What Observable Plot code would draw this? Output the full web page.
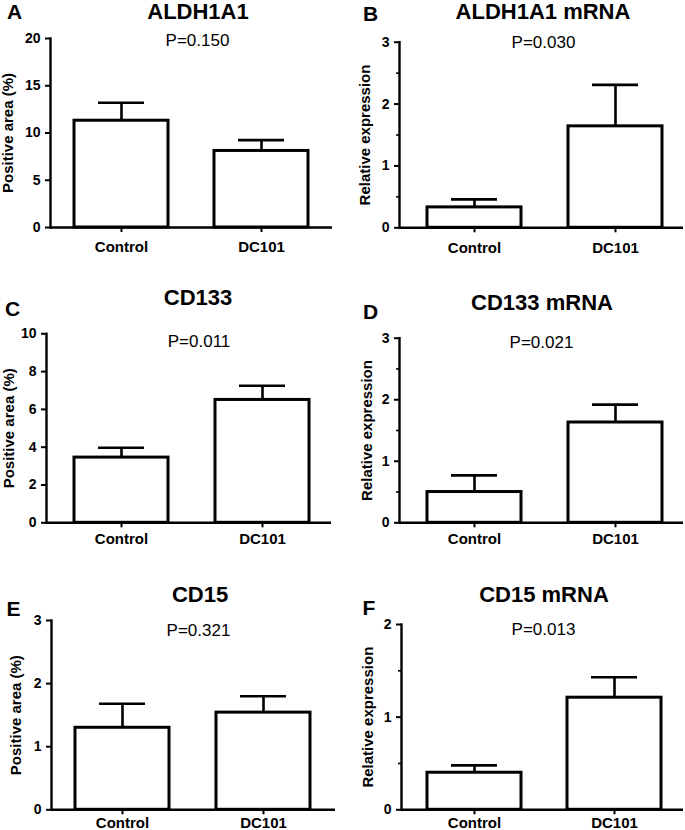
<!DOCTYPE html>
<html><head><meta charset="utf-8">
<script src="https://cdn.jsdelivr.net/npm/d3@7"></script>
<script src="https://cdn.jsdelivr.net/npm/@observablehq/plot@0.6"></script>
<style>
html,body{margin:0;padding:0;background:#fff;}
#root{position:relative;width:685px;height:830px;overflow:hidden;background:#fff;font-family:"Liberation Sans",Arial,sans-serif;color:#000}
.panel{position:absolute}
.title,.letter{position:absolute;font-weight:bold;font-size:22px;transform:translate(-50%,-50%);white-space:nowrap;line-height:1}
.letter{font-size:21px}
</style></head>
<body><div id="root"></div>
<script>
// ---- data ----
const categories = ["Control", "DC101"];
const panelLetters = ["A", "B", "C", "D", "E", "F"];
const panelTitles = ["ALDH1A1", "ALDH1A1 mRNA", "CD133", "CD133 mRNA", "CD15", "CD15 mRNA"];
const pValues = ["P=0.150", "P=0.030", "P=0.011", "P=0.021", "P=0.321", "P=0.013"];
const yLabels = ["Positive area (%)", "Relative expression", "Positive area (%)", "Relative expression", "Positive area (%)", "Relative expression"];

const aldh1a1Mean = [11.3, 8.1];      const aldh1a1Sem = [1.9, 1.15];
const aldh1a1mRNAMean = [0.33, 1.64]; const aldh1a1mRNASem = [0.13, 0.67];
const cd133Mean = [3.45, 6.5];        const cd133Sem = [0.52, 0.75];
const cd133mRNAMean = [0.50, 1.63];   const cd133mRNASem = [0.27, 0.29];
const cd15Mean = [1.30, 1.54];        const cd15Sem = [0.38, 0.26];
const cd15mRNAMean = [0.40, 1.21];    const cd15mRNASem = [0.08, 0.22];

const yDomains = [[0, 20], [0, 3], [0, 10], [0, 3], [0, 3], [0, 2]];
const yTicks = [[0, 5, 10, 15, 20], [0, 1, 2, 3], [0, 2, 4, 6, 8, 10], [0, 1, 2, 3], [0, 1, 2, 3], [0, 1, 2]];
const yMinorTicks = [[], [0.5, 1.5, 2.5], [], [0.5, 1.5, 2.5], [], [0.5, 1.5]];

const means = [aldh1a1Mean, aldh1a1mRNAMean, cd133Mean, cd133mRNAMean, cd15Mean, cd15mRNAMean];
const sems = [aldh1a1Sem, aldh1a1mRNASem, cd133Sem, cd133mRNASem, cd15Sem, cd15mRNASem];

// ---- layout (page pixels) ----
const geom = [
  {left: 0,   top: 0,   w: 342, x0: 50,  x1: 332, y0: 227,   y1: 38,    align: 0.5,  pDx: 6,  pDy: 2.5, labelX: 7.5,   catPad: 8.5, tx: 198, ty: 12,  lx: 14.5,  ly: 11},
  {left: 342, top: 0,   w: 343, x0: 399, x1: 683, y0: 227.3, y1: 41.7,  align: 0.58, pDx: 2,  pDy: 0,   labelX: 365,   catPad: 9.5, tx: 543, ty: 12,  lx: 370.5, ly: 12.5},
  {left: 0,   top: 280, w: 342, x0: 46,  x1: 331, y0: 522.3, y1: 333.3, align: 0.56, pDx: 10, pDy: 8,   labelX: 9,     catPad: 6,   tx: 198, ty: 298, lx: 12.5,  ly: 307.5},
  {left: 342, top: 280, w: 343, x0: 399, x1: 683, y0: 522.3, y1: 337.7, align: 0.58, pDx: 0,  pDy: 4,   labelX: 366.5, catPad: 6,   tx: 542, ty: 303, lx: 370.5, ly: 310.5},
  {left: 0,   top: 560, w: 342, x0: 51,  x1: 335, y0: 809.3, y1: 620,   align: 0.5,  pDx: 5,  pDy: 10,  labelX: 15.5,  catPad: 2.5, tx: 200, ty: 595, lx: 13.5,  ly: 607.5},
  {left: 342, top: 560, w: 343, x0: 401, x1: 683, y0: 809.3, y1: 624,   align: 0.54, pDx: 1,  pDy: 5.5, labelX: 367.5, catPad: 2.5, tx: 544, ty: 595, lx: 369,   ly: 606.5}
];
const H = 280;
const root = document.getElementById("root");

geom.forEach((g, i) => {
  const data = categories.map((c, j) => ({cat: c, mean: means[i][j], top: means[i][j] + sems[i][j]}));
  const plot = Plot.plot({
    width: g.w,
    height: H,
    marginLeft: g.x0 - g.left,
    marginRight: g.left + g.w - g.x1,
    marginTop: g.y1 - g.top,
    marginBottom: g.top + H - g.y0,
    style: {fontFamily: '"Liberation Sans", Arial, sans-serif', color: "#000", background: "transparent", overflow: "visible"},
    x: {type: "band", domain: categories, paddingInner: 0.33, paddingOuter: 0.17, align: g.align, label: null},
    y: {domain: yDomains[i], label: null},
    marks: [
      Plot.barY(data, {x: "cat", y: "mean", fill: "#fff", stroke: "#000", strokeWidth: 3}),
      Plot.ruleX(data, {x: "cat", y1: "mean", y2: "top", stroke: "#000", strokeWidth: 2.6}),
      Plot.tickY(data, {x: "cat", y: "top", stroke: "#000", strokeWidth: 2.6, insetLeft: 24, insetRight: 24}),
      Plot.axisY({ticks: yTicks[i], tickFormat: d3.format("~g"), tickSize: 5, tickPadding: 5, strokeWidth: 2, fontSize: 14, fontWeight: "bold", label: null}),
      Plot.axisY({ticks: yMinorTicks[i], tickSize: 3, strokeWidth: 1.6, tickFormat: () => "", label: null}),
      Plot.axisX({tickSize: 5, tickPadding: g.catPad, strokeWidth: 2, fontSize: 15, fontWeight: "bold", label: null}),
      Plot.ruleY([0], {stroke: "#000", strokeWidth: 2.4}),
      Plot.frame({anchor: "left", stroke: "#000", strokeWidth: 2.4}),
      Plot.text([pValues[i]], {frameAnchor: "top", lineAnchor: "middle", dx: g.pDx, dy: g.pDy, fontSize: 17, fill: "#000"}),
      Plot.text([yLabels[i]], {frameAnchor: "left", textAnchor: "middle", lineAnchor: "middle", rotate: -90, dx: g.labelX - g.x0, fontSize: 15, fontWeight: "bold", fill: "#000"})
    ]
  });
  const div = document.createElement("div");
  div.className = "panel";
  div.style.left = g.left + "px";
  div.style.top = g.top + "px";
  div.appendChild(plot);
  root.appendChild(div);

  const t = document.createElement("div");
  t.className = "title";
  t.style.left = g.tx + "px";
  t.style.top = g.ty + "px";
  t.textContent = panelTitles[i];
  root.appendChild(t);

  const l = document.createElement("div");
  l.className = "letter";
  l.style.left = g.lx + "px";
  l.style.top = g.ly + "px";
  l.textContent = panelLetters[i];
  root.appendChild(l);
});
</script>
</body></html>
